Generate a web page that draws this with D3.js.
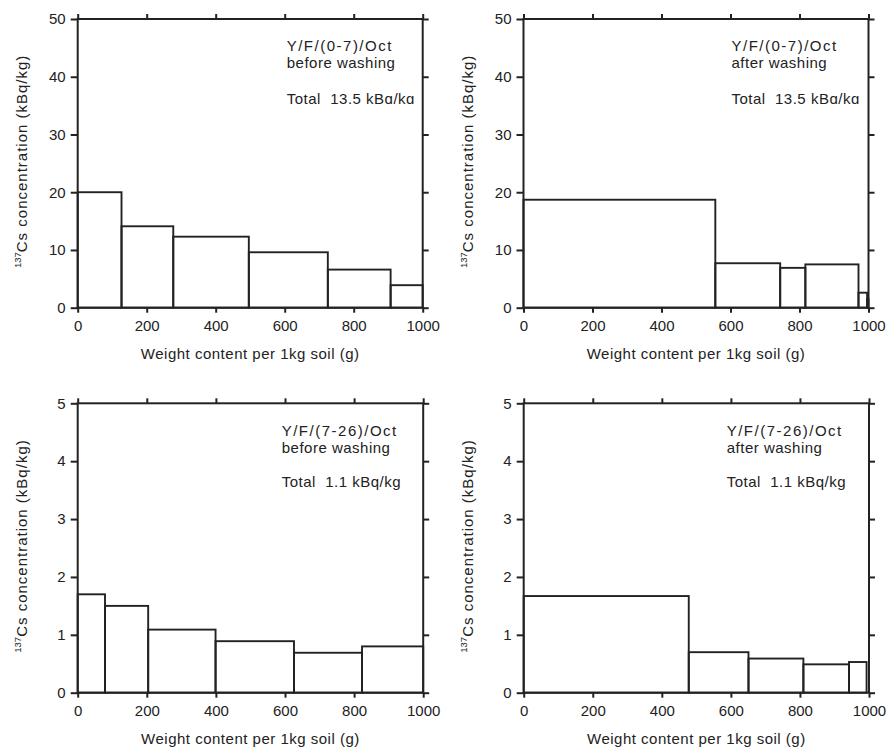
<!DOCTYPE html>
<html><head><meta charset="utf-8">
<script src="https://cdn.jsdelivr.net/npm/d3@7/dist/d3.min.js"></script>
<style>
body{margin:0;background:#fff}
text{font-family:"Liberation Sans",Arial,sans-serif;fill:#222;white-space:pre}
</style>
</head><body>
<svg id="chart" width="889" height="751"></svg>
<script>
// ---- data ----
const xTicks = [0, 200, 400, 600, 800, 1000];
const yTicksUpper = [0, 10, 20, 30, 40, 50];
const yTicksLower = [0, 1, 2, 3, 4, 5];

// bin edges (g per 1kg soil) and 137Cs concentration (kBq/kg)
const edgesUpperBefore = [0, 127, 277, 496, 725, 907, 1000];
const valuesUpperBefore = [20.0, 14.1, 12.3, 9.6, 6.6, 3.9];
const edgesUpperAfter = [0, 556, 744, 817, 971, 996, 1000];
const valuesUpperAfter = [18.7, 7.7, 6.9, 7.5, 2.6, 1.5];
const edgesLowerBefore = [0, 79, 204, 399, 626, 823, 1000];
const valuesLowerBefore = [1.70, 1.50, 1.09, 0.89, 0.69, 0.80];
const edgesLowerAfter = [0, 478, 651, 810, 942, 993];
const valuesLowerAfter = [1.67, 0.70, 0.59, 0.49, 0.53];

const annotUpperBefore = ["Y/F/(0-7)/Oct", "before washing", "Total  13.5 kBq/kg"];
const annotUpperAfter = ["Y/F/(0-7)/Oct", "after washing", "Total  13.5 kBq/kg"];
const annotLowerBefore = ["Y/F/(7-26)/Oct", "before washing", "Total  1.1 kBq/kg"];
const annotLowerAfter = ["Y/F/(7-26)/Oct", "after washing", "Total  1.1 kBq/kg"];

const xTitle = "Weight content per 1kg soil (g)";
const yTitleSup = "137";
const yTitleMain = "Cs concentration (kBq/kg)";

// ---- layout ----
const panels = [
  {x: 77.7, y: 19, w: 345, h: 288.7, edges: edgesUpperBefore, values: valuesUpperBefore, yTicks: yTicksUpper, annot: annotUpperBefore, ax: 209, ay: [31.7, 48.7, 84.8], clipTotal: true},
  {x: 523.5, y: 19, w: 345, h: 288.7, edges: edgesUpperAfter, values: valuesUpperAfter, yTicks: yTicksUpper, annot: annotUpperAfter, ax: 208, ay: [31.7, 48.7, 84.8], clipTotal: true},
  {x: 77.7, y: 403.3, w: 345.5, h: 289.4, edges: edgesLowerBefore, values: valuesLowerBefore, yTicks: yTicksLower, annot: annotLowerBefore, ax: 204, ay: [32.4, 50, 83.4], clipTotal: false},
  {x: 523.7, y: 403.3, w: 345.3, h: 289.4, edges: edgesLowerAfter, values: valuesLowerAfter, yTicks: yTicksLower, annot: annotLowerAfter, ax: 203, ay: [32.4, 50, 83.4], clipTotal: false}
];

const svg = d3.select("#chart");
const defs = svg.append("defs");
const ink = "#222";
const fs = 15;

panels.forEach((p, pi) => {
  const g = svg.append("g").attr("transform", `translate(${p.x},${p.y})`);
  const x = d3.scaleLinear().domain([0, 1000]).range([0, p.w]);
  const yMax = p.yTicks[p.yTicks.length - 1];
  const y = d3.scaleLinear().domain([0, yMax]).range([p.h, 0]);

  // bars
  const bins = p.values.map((v, i) => ({x0: p.edges[i], x1: p.edges[i + 1], v}));
  g.selectAll("rect.bar").data(bins).enter().append("rect")
    .attr("class", "bar")
    .attr("x", d => x(d.x0))
    .attr("y", d => y(d.v))
    .attr("width", d => x(d.x1) - x(d.x0))
    .attr("height", d => y(0) - y(d.v))
    .attr("fill", "none")
    .attr("stroke", ink)
    .attr("stroke-width", 1.9);

  // axes
  const bottom = d3.axisBottom(x).tickValues(xTicks).tickSize(5).tickPadding(8).tickFormat(d3.format("d"));
  const top = d3.axisTop(x).tickValues(xTicks).tickSize(5).tickFormat("");
  const left = d3.axisLeft(y).tickValues(p.yTicks).tickSize(7).tickPadding(5).tickFormat(d3.format("d"));
  const right = d3.axisRight(y).tickValues(p.yTicks).tickSize(6).tickFormat("");

  const styleAxis = sel => {
    sel.selectAll("path").attr("stroke", ink).attr("stroke-width", 2);
    sel.selectAll("line").attr("stroke", ink).attr("stroke-width", 2);
    sel.selectAll("text").attr("font-size", fs).attr("fill", ink)
      .attr("font-family", "'Liberation Sans',Arial,sans-serif");
  };
  g.append("g").attr("transform", `translate(0,${p.h})`).call(bottom).call(styleAxis);
  g.append("g").call(top).call(styleAxis);
  g.append("g").call(left).call(styleAxis);
  g.append("g").attr("transform", `translate(${p.w},0)`).call(right).call(styleAxis);
  g.selectAll(".domain").attr("d", null);
  // frame
  g.append("rect").attr("x", 0).attr("y", 0).attr("width", p.w).attr("height", p.h)
    .attr("fill", "none").attr("stroke", ink).attr("stroke-width", 2);

  // x title
  g.append("text").attr("x", p.w / 2).attr("y", p.h + 51)
    .attr("text-anchor", "middle").attr("font-size", fs)
    .attr("letter-spacing", 0.5).text(xTitle);

  // y title
  const yt = g.append("text")
    .attr("transform", `translate(-51,${p.h / 2 - 2}) rotate(-90)`)
    .attr("text-anchor", "middle").attr("font-size", fs).attr("letter-spacing", 1);
  yt.append("tspan").attr("font-size", 9.5).attr("letter-spacing", 0).attr("dy", -5.5).text(yTitleSup);
  yt.append("tspan").attr("dy", 5.5).text(yTitleMain);

  // annotation (upper panels: the total line is cut off at its bottom in the original)
  const clipId = "clipTotal" + pi;
  if (p.clipTotal) {
    defs.append("clipPath").attr("id", clipId).append("rect")
      .attr("x", 0).attr("y", 0).attr("width", p.w).attr("height", p.ay[2] + 0.3);
  }
  p.annot.forEach((t, i) => {
    const tx = g.append("text").attr("x", p.ax).attr("y", p.ay[i]).attr("font-size", fs)
      .attr("letter-spacing", i === 0 ? 1.5 : 0.5).text(t);
    if (i === 2 && p.clipTotal) tx.attr("clip-path", `url(#${clipId})`);
  });
});
</script>
</body></html>
